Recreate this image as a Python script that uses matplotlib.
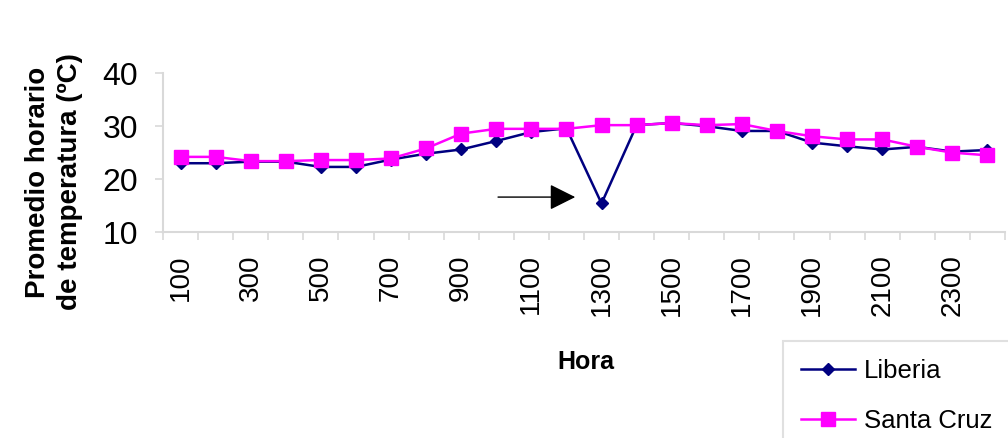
import matplotlib
matplotlib.use("Agg")
import matplotlib.pyplot as plt

# Hourly average temperature (ºC)
horas = [100, 200, 300, 400, 500, 600, 700, 800, 900, 1000, 1100, 1200,
         1300, 1400, 1500, 1600, 1700, 1800, 1900, 2000, 2100, 2200, 2300, 2400]
liberia = [23.0, 23.0, 23.3, 23.3, 22.3, 22.3, 23.7, 24.8, 25.6, 27.2, 28.9, 29.6,
           15.4, 30.2, 30.6, 30.0, 29.1, 29.1, 26.9, 26.2, 25.6, 26.1, 25.2, 25.5]
santa_cruz = [24.2, 24.2, 23.4, 23.4, 23.6, 23.6, 23.9, 25.8, 28.6, 29.5, 29.5, 29.5,
              30.2, 30.2, 30.6, 30.2, 30.4, 29.1, 28.1, 27.5, 27.5, 26.1, 25.0, 24.5]
y_ticks = [10, 20, 30, 40]

sans = ["Liberation Sans", "DejaVu Sans"]

fig = plt.figure(figsize=(10.08, 4.38), dpi=100)
ax = fig.add_axes([163 / 1008, 1 - 232 / 438, 842 / 1008, (232 - 73.3) / 438])

x = list(range(len(horas)))
ax.plot(x, liberia, color="#000080", lw=1.8, marker="D", ms=6.5, label="Liberia")
ax.plot(x, santa_cruz, color="#FF00FF", lw=1.8, marker="s", ms=10, label="Santa Cruz")

ax.set_xlim(-0.5, len(horas) - 0.5)
ax.set_ylim(10, 40)
ax.set_yticks(y_ticks)
ax.set_yticklabels([str(v) for v in y_ticks], fontsize=23, family=sans)
ax.set_xticks(x[::2])
ax.set_xticklabels([str(h) for h in horas[::2]], rotation=90, fontsize=20,
                   family=sans, va="top")
ax.set_xticks([i - 0.5 for i in range(len(horas) + 1)], minor=True)
ax.tick_params(axis="x", which="major", length=0, pad=16)
ax.tick_params(axis="x", which="minor", length=6, width=1.2, color="#d9d9d9")
ax.tick_params(axis="y", length=6, width=1.2, color="#d9d9d9", pad=12)

for side in ["top", "right"]:
    ax.spines[side].set_visible(False)
for side in ["left", "bottom"]:
    ax.spines[side].set_color("#d9d9d9")
    ax.spines[side].set_linewidth(1.5)

# arrow pointing at the 1300 drop
ax.annotate("", xy=(11.25, 16.6), xytext=(9.05, 16.6),
            arrowprops=dict(arrowstyle="-|>", mutation_scale=40, color="black",
                            lw=1.0, shrinkA=0, shrinkB=0))

fig.text(586 / 1008, 1 - 362 / 438, "Hora", fontsize=18, fontweight="bold",
         family=sans, ha="center", va="center")
fig.text(54 / 1008, 1 - 182 / 438, "Promedio horario\nde temperatura (ºC)",
         fontsize=20, fontweight="bold", family=sans, rotation=90,
         ha="center", va="center", linespacing=1.3)

leg = fig.legend(loc="upper left", bbox_to_anchor=(783 / 1008, 1 - 341 / 438),
                 prop={"family": sans, "size": 18.5}, frameon=True, fancybox=False,
                 handlelength=2.1, handletextpad=0.35, labelspacing=1.0,
                 borderpad=0.7, borderaxespad=0)
leg.get_frame().set_edgecolor("#d9d9d9")
leg.get_frame().set_linewidth(1.5)

fig.savefig("out.png", dpi=100)
